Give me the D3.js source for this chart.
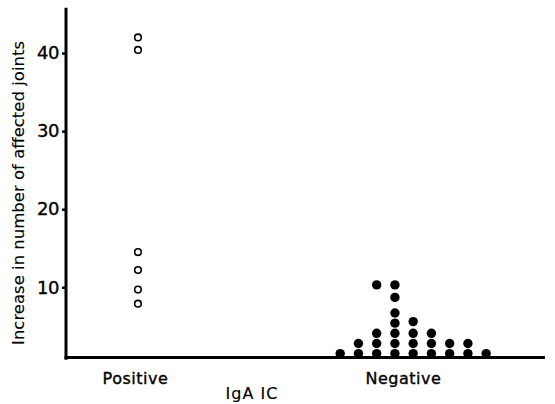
<!DOCTYPE html>
<html>
<head>
<meta charset="utf-8">
<script src="https://cdn.jsdelivr.net/npm/d3@7"></script>
<style>
  body { margin: 0; background: #fff; }
  svg text { font-family: "DejaVu Sans", sans-serif; fill: #000; stroke: #000; stroke-width: 0.35px; }
</style>
</head>
<body>
<div id="chart"></div>
<script>
// groups on the x axis
var groups = ["Positive", "Negative"];
var yTicks = [10, 20, 30, 40];

// IgA IC positive: increase in number of affected joints (open circles)
var positiveValues = [42, 40.4, 14.5, 12.2, 9.7, 7.9];

// IgA IC negative: [stack slot, value] for each filled dot
var negativeSlots  = [-3, -2, -2, -1, -1, -1, -1, 0, 0, 0, 0, 0, 0, 0, 1, 1, 1, 1, 2, 2, 2, 3, 3, 4, 4, 5];
var negativeValues = [1.5, 1.5, 2.8, 1.5, 2.8, 4.1, 10.3, 1.5, 2.8, 4.1, 5.4, 6.7, 8.7, 10.3, 1.5, 2.8, 4.1, 5.6, 1.5, 2.8, 4.1, 1.5, 2.8, 1.5, 2.8, 1.5];

var svgWidth = 555, svgHeight = 404;

var svg = d3.select("#chart").append("svg")
  .attr("width", svgWidth)
  .attr("height", svgHeight);

var xscale = d3.scaleLinear()
  .domain([-0.28, 1.584])
  .range([66, 545]);
var slotWidth = 0.071; // spacing of stacked dots, in group units

var yscale = d3.scaleLinear()
  .domain([1, 45.8])
  .range([357.5, 7.8]);

// y axis
var yAxis = d3.axisLeft(yscale).tickValues(yTicks).tickSize(4).tickPadding(3).tickSizeOuter(0);
var gy = svg.append("g")
  .attr("transform", "translate(66,0)")
  .call(yAxis);
gy.select(".domain").attr("stroke-width", 3).attr("d", "M0," + yscale(0.7) + "V" + yscale(45.8));
gy.selectAll(".tick line").attr("stroke-width", 2.5);
gy.selectAll(".tick text").style("font-size", "18px").style("font-family", "DejaVu Sans")
  .style("letter-spacing", "-0.5px");

// x axis
var xAxis = d3.axisBottom(xscale).tickValues([0, 1]).tickFormat(d => groups[d])
  .tickSize(0).tickPadding(15).tickSizeOuter(0);
var gx = svg.append("g")
  .attr("transform", "translate(0," + yscale(1) + ")")
  .call(xAxis);
gx.select(".domain").attr("stroke-width", 3).attr("d", "M64.5,0H545");
gx.selectAll(".tick text").style("font-size", "16px").style("font-family", "DejaVu Sans")
  .style("letter-spacing", "0.5px")
  .attr("dx", (d, i) => i === 1 ? 8 : -3);

// axis titles
svg.append("text")
  .attr("x", 252).attr("y", 399)
  .attr("text-anchor", "middle")
  .style("font-size", "16px")
  .style("letter-spacing", "1px")
  .style("stroke-width", "0.15px")
  .text("IgA  IC");

svg.append("text")
  .attr("transform", "translate(24,193) rotate(-90)")
  .attr("text-anchor", "middle")
  .style("font-size", "16.5px")
  .style("stroke-width", "0.1px")
  .text("Increase in number of affected joints");

// positive: open circles
svg.selectAll(".pos")
  .data(positiveValues)
  .enter().append("circle")
  .attr("class", "pos")
  .attr("cx", xscale(0))
  .attr("cy", d => yscale(d))
  .attr("r", 3.3)
  .attr("fill", "#fff")
  .attr("stroke", "#000")
  .attr("stroke-width", 1.6);

// negative: filled dots
svg.selectAll(".neg")
  .data(negativeValues)
  .enter().append("circle")
  .attr("class", "neg")
  .attr("cx", (d, i) => xscale(1 + negativeSlots[i] * slotWidth))
  .attr("cy", d => yscale(d))
  .attr("r", 4.7)
  .attr("fill", "#000");
</script>
</body>
</html>
